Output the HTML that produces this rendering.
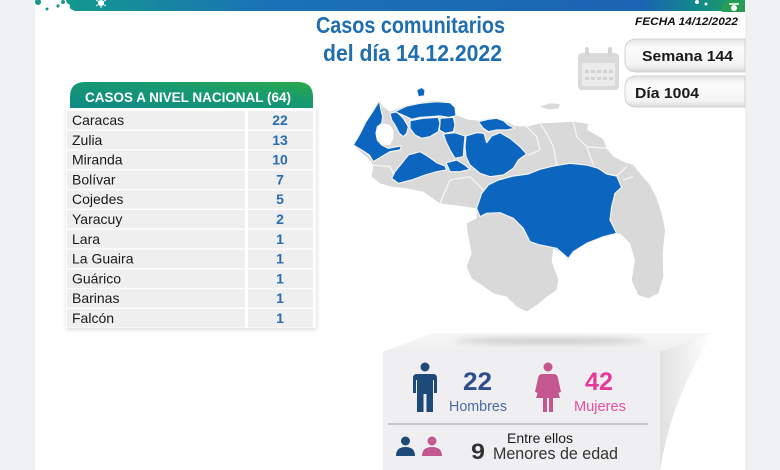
<!DOCTYPE html>
<html><head><meta charset="utf-8"><style>
html,body{margin:0;padding:0;background:#fff;}
svg{display:block;}
text{font-family:"Liberation Sans",sans-serif;}
</style></head><body>
<svg width="780" height="470" viewBox="0 0 780 470" xmlns="http://www.w3.org/2000/svg">
<defs>
<linearGradient id="ban" gradientUnits="userSpaceOnUse" x1="60" y1="0" x2="745" y2="0">
<stop offset="0" stop-color="#139a8c"/><stop offset="0.3" stop-color="#1a72b6"/><stop offset="0.85" stop-color="#1b64b3"/><stop offset="0.93" stop-color="#12898a"/><stop offset="1" stop-color="#22a05a"/>
</linearGradient>
<linearGradient id="hdr" x1="0" y1="1" x2="1" y2="0">
<stop offset="0" stop-color="#0f8a85"/><stop offset="0.6" stop-color="#179a70"/><stop offset="1" stop-color="#2aa84a"/>
</linearGradient>
<linearGradient id="pill" x1="0" y1="0" x2="0" y2="1">
<stop offset="0" stop-color="#e4e4e4"/><stop offset="0.25" stop-color="#fbfbfb"/><stop offset="0.8" stop-color="#f4f4f4"/><stop offset="1" stop-color="#d8d8d8"/>
</linearGradient>
<linearGradient id="side" x1="0" y1="0" x2="1" y2="0">
<stop offset="0" stop-color="#dedede"/><stop offset="1" stop-color="#ffffff"/>
</linearGradient>
<linearGradient id="topf" x1="0" y1="0" x2="0" y2="1">
<stop offset="0" stop-color="#f7f7f7"/><stop offset="1" stop-color="#eeeeee"/>
</linearGradient>
<filter id="blur" x="-20%" y="-200%" width="140%" height="500%"><feGaussianBlur stdDeviation="3"/></filter>
<filter id="sh" x="-10%" y="-10%" width="120%" height="120%"><feGaussianBlur stdDeviation="2"/></filter>
</defs>

<!-- side margins -->
<rect x="0" y="0" width="35" height="470" fill="#f0f1f3"/>
<rect x="745" y="0" width="35" height="470" fill="#f0f1f3"/>

<!-- top banner -->
<path d="M66,0 H745 V11 H75 Q68,9 70,5 Q66,3 66,0 Z" fill="url(#ban)"/>
<circle cx="38" cy="2" r="3" fill="#139a8c"/>
<circle cx="47" cy="9" r="1.5" fill="#139a8c"/>
<circle cx="58" cy="6" r="1.6" fill="#139a8c"/>
<circle cx="63" cy="2" r="2" fill="#139a8c"/>
<circle cx="101" cy="3" r="3" fill="#fff"/>
<path d="M96,0 L106,6 M106,0 L96,6 M101,-1 V8" stroke="#fff" stroke-width="1"/>
<circle cx="697" cy="2" r="2" fill="#fff"/>
<circle cx="706" cy="4" r="1.5" fill="#fff"/>
<path d="M722,12 Q720,3 727,1 L745,0 V12 Z" fill="#2a9d55"/>
<circle cx="734" cy="8" r="3" fill="#fff"/>
<path d="M729,4 L739,4" stroke="#fff" stroke-width="1.5"/>

<!-- title -->
<text x="316" y="33" font-size="23" font-weight="bold" fill="#1f6eb0" textLength="189" lengthAdjust="spacingAndGlyphs">Casos comunitarios</text>
<text x="323" y="61" font-size="23" font-weight="bold" fill="#1f6eb0" textLength="179" lengthAdjust="spacingAndGlyphs">del día 14.12.2022</text>

<text x="635" y="25" font-size="11" font-weight="bold" font-style="italic" fill="#111" textLength="103" lengthAdjust="spacingAndGlyphs">FECHA 14/12/2022</text>

<!-- calendar -->
<g opacity="0.9">
<rect x="578" y="53" width="41" height="37" rx="4" fill="#d6d6d6"/>
<rect x="582" y="63" width="33" height="23" rx="1" fill="#e9e9e9"/>
<rect x="585" y="47" width="4" height="10" rx="2" fill="#d0d0d0"/>
<rect x="608" y="47" width="4" height="10" rx="2" fill="#d0d0d0"/>
<g fill="#cfcfcf">
<rect x="585" y="70" width="4" height="3"/><rect x="591" y="70" width="4" height="3"/><rect x="597" y="70" width="4" height="3"/><rect x="603" y="70" width="4" height="3"/><rect x="609" y="70" width="4" height="3"/>
<rect x="585" y="77" width="4" height="3"/><rect x="591" y="77" width="4" height="3"/><rect x="597" y="77" width="4" height="3"/><rect x="603" y="77" width="4" height="3"/><rect x="609" y="77" width="4" height="3"/>
</g>
</g>

<!-- semana / dia pills -->
<path d="M745,39 H637 Q625,39 625,51 V60 Q625,72 637,72 H745 Z" fill="url(#pill)" stroke="#d2d2d2" stroke-width="1"/>
<path d="M745,76 H637 Q625,76 625,88 V96 Q625,107 637,107 H745 Z" fill="url(#pill)" stroke="#d2d2d2" stroke-width="1"/>
<text x="642" y="61" font-size="15" font-weight="bold" fill="#1a1a1a" textLength="91" lengthAdjust="spacingAndGlyphs">Semana 144</text>
<text x="635" y="98" font-size="15" font-weight="bold" fill="#1a1a1a" textLength="64" lengthAdjust="spacingAndGlyphs">Día 1004</text>

<!-- table -->
<rect x="66" y="108" width="251" height="222" fill="#e0e0e0" filter="url(#sh)"/>
<rect x="66" y="108" width="250" height="220" fill="#fff"/>
<path d="M70,108 V97 Q70,82 85,82 H298 Q313,82 313,97 V108 Z" fill="url(#hdr)"/>
<text x="85" y="102" font-size="14" font-weight="bold" fill="#fff" textLength="206" lengthAdjust="spacingAndGlyphs">CASOS A NIVEL NACIONAL  (64)</text>
<g fill="#efefef">
<rect x="67" y="111" width="178" height="18.5"/><rect x="248" y="111" width="65" height="18.5"/>
<rect x="67" y="130.8" width="178" height="18.5"/><rect x="248" y="130.8" width="65" height="18.5"/>
<rect x="67" y="150.6" width="178" height="18.5"/><rect x="248" y="150.6" width="65" height="18.5"/>
<rect x="67" y="170.4" width="178" height="18.5"/><rect x="248" y="170.4" width="65" height="18.5"/>
<rect x="67" y="190.2" width="178" height="18.5"/><rect x="248" y="190.2" width="65" height="18.5"/>
<rect x="67" y="210" width="178" height="18.5"/><rect x="248" y="210" width="65" height="18.5"/>
<rect x="67" y="229.8" width="178" height="18.5"/><rect x="248" y="229.8" width="65" height="18.5"/>
<rect x="67" y="249.6" width="178" height="18.5"/><rect x="248" y="249.6" width="65" height="18.5"/>
<rect x="67" y="269.4" width="178" height="18.5"/><rect x="248" y="269.4" width="65" height="18.5"/>
<rect x="67" y="289.2" width="178" height="18.5"/><rect x="248" y="289.2" width="65" height="18.5"/>
<rect x="67" y="309" width="178" height="18.5"/><rect x="248" y="309" width="65" height="18.5"/>
</g>
<g font-size="14" fill="#1a1a1a">
<text x="72" y="125">Caracas</text>
<text x="72" y="144.8">Zulia</text>
<text x="72" y="164.6">Miranda</text>
<text x="72" y="184.4">Bolívar</text>
<text x="72" y="204.2">Cojedes</text>
<text x="72" y="224">Yaracuy</text>
<text x="72" y="243.8">Lara</text>
<text x="72" y="263.6">La Guaira</text>
<text x="72" y="283.4">Guárico</text>
<text x="72" y="303.2">Barinas</text>
<text x="72" y="323">Falcón</text>
</g>
<g font-size="14" font-weight="bold" fill="#2a6db0" text-anchor="middle">
<text x="280" y="125">22</text>
<text x="280" y="144.8">13</text>
<text x="280" y="164.6">10</text>
<text x="280" y="184.4">7</text>
<text x="280" y="204.2">5</text>
<text x="280" y="224">2</text>
<text x="280" y="243.8">1</text>
<text x="280" y="263.6">1</text>
<text x="280" y="283.4">1</text>
<text x="280" y="303.2">1</text>
<text x="280" y="323">1</text>
</g>

<!-- map -->
<g transform="translate(340,80) scale(0.33333)">
<path d="M40,195 L60,160 L85,115 L105,85 L118,60 L128,80 L150,95 L175,85 L205,75 L240,68 L280,62 L330,66 L345,80 L348,105 L380,118 L415,122 L450,115 L490,120 L525,138 L560,140 L600,130 L650,128 L700,125 L745,132 L740,148 L760,160 L790,178 L800,205 L820,230 L850,245 L880,255 L900,280 L930,315 L950,355 L965,400 L975,450 L968,520 L970,590 L955,640 L925,655 L895,645 L875,600 L885,540 L870,490 L840,460 L800,470 L760,482 L720,500 L700,520 L685,540 L665,520 L640,505 L635,545 L655,600 L650,630 L620,650 L590,675 L560,695 L530,680 L500,650 L460,640 L425,615 L395,595 L380,560 L395,520 L385,470 L380,430 L410,415 L410,385 L360,378 L300,370 L250,335 L200,325 L155,320 L120,310 L95,290 L100,255 L85,235 L60,215 Z" fill="#d9d9d9"/>
<path d="M600,80 L630,70 L660,72 L655,85 L625,88 Z" fill="#d9d9d9"/>
<g fill="none" stroke="#f4f4f4" stroke-width="4">
<path d="M560,140 L590,170 L600,210 L565,225"/>
<path d="M600,130 L620,160 L640,200 L650,255"/>
<path d="M700,125 L710,170 L740,200 L760,255"/>
<path d="M740,200 L800,205"/>
<path d="M830,288 L860,260"/>
<path d="M95,255 L150,260 L170,300"/>
<path d="M410,385 L420,410"/>
<path d="M300,370 L330,300 L390,290 L430,330"/>
<path d="M850,300 L880,290"/>
</g>
<g fill="#0c66c0" stroke="#f4f4f4" stroke-width="3.5" stroke-linejoin="round">
<path d="M40,195 L58,165 L78,125 L98,95 L118,62 L122,85 L128,110 L125,130 L112,140 L108,160 L112,180 L125,195 L145,205 L170,200 L185,198 L180,210 L150,215 L125,230 L100,245 L88,225 L65,210 Z"/>
<path d="M150,100 L170,95 L190,115 L205,140 L200,160 L190,170 L178,160 L165,135 L155,120 Z"/>
<path d="M165,95 L200,78 L240,70 L290,65 L330,68 L345,82 L348,108 L325,112 L300,108 L270,110 L240,112 L215,118 L195,108 Z"/>
<path d="M210,122 L250,115 L295,112 L300,130 L295,155 L270,170 L245,175 L225,165 L210,145 Z"/>
<path d="M300,115 L340,112 L345,135 L340,155 L315,160 L298,150 L300,130 Z"/>
<path d="M310,162 L345,158 L375,168 L372,200 L370,230 L345,235 L330,210 L318,185 Z"/>
<path d="M378,168 L410,158 L432,160 L440,188 L455,168 L480,158 L510,175 L540,200 L560,222 L535,240 L520,265 L490,285 L450,290 L420,280 L390,255 L378,230 L375,200 Z"/>
<path d="M415,125 L445,118 L470,115 L490,122 L505,135 L525,145 L500,150 L470,150 L445,155 L430,145 Z"/>
<path d="M155,295 L165,275 L185,250 L205,225 L240,215 L265,230 L290,248 L315,258 L320,270 L290,275 L255,285 L215,300 L175,310 Z"/>
<path d="M318,248 L350,240 L375,255 L390,268 L360,275 L330,275 Z"/>
<path d="M410,385 L425,340 L445,315 L475,300 L520,288 L565,282 L600,268 L640,258 L690,250 L740,255 L775,265 L800,282 L830,288 L845,322 L825,340 L815,380 L810,420 L830,460 L790,470 L740,490 L700,515 L685,535 L650,505 L600,495 L570,485 L550,445 L520,415 L480,398 L440,400 L420,410 Z"/>
<path d="M230,30 L245,22 L255,30 L253,48 L235,50 Z"/>
</g>
<path d="M112,140 L130,130 L150,135 L160,150 L160,175 L150,195 L125,195 L112,180 L108,160 Z" fill="#fff"/>
</g>

<!-- stats box -->
<path d="M713,333 Q690,370 675,410 Q665,440 660,470 H655 V352 Z" fill="url(#side)"/>
<path d="M383,352 L432,333 H713 L660,352 Z" fill="url(#topf)"/>
<ellipse cx="550" cy="341" rx="95" ry="3" fill="#c8c8c8" filter="url(#blur)"/>
<rect x="383" y="352" width="277" height="118" fill="#efeff1"/>

<!-- man -->
<g fill="#1d4a78">
<circle cx="425" cy="367" r="4.5"/>
<path d="M417,374 H433 Q437,374 437,378 V393 H434 V380 H433 V412 H426.5 V394 H423.5 V412 H417 V380 H416 V393 H413 V378 Q413,374 417,374 Z"/>
</g>
<!-- woman -->
<g fill="#c4578f">
<circle cx="548" cy="367" r="4.5"/>
<path d="M542,374 H554 Q557,374 558,378 L561,392 L558,393 L555,382 L560,398 H553 V412 H549 V398 H547 V412 H543 V398 H536 L541,382 L538,393 L535,392 L538,378 Q539,374 542,374 Z"/>
</g>
<text x="463" y="390" font-size="25" font-weight="bold" fill="#2c4d8e" textLength="29" lengthAdjust="spacingAndGlyphs">22</text>
<text x="585" y="390" font-size="25" font-weight="bold" fill="#e6399b" textLength="28" lengthAdjust="spacingAndGlyphs">42</text>
<text x="449" y="411" font-size="15" fill="#4b6aa5" textLength="58" lengthAdjust="spacingAndGlyphs">Hombres</text>
<text x="574" y="411" font-size="15" fill="#e8509f" textLength="52" lengthAdjust="spacingAndGlyphs">Mujeres</text>
<rect x="388" y="423" width="260" height="2" fill="#c6c6c6"/>

<!-- small icons -->
<g fill="#1d4a78">
<circle cx="405.5" cy="441" r="4.5"/>
<path d="M396,456 Q396,447 405.5,447 Q415,447 415,456 Z"/>
</g>
<g fill="#c4578f">
<circle cx="432" cy="441" r="4.5"/>
<path d="M422,456 Q422,447 432,447 Q442,447 442,456 Z"/>
</g>
<text x="507" y="443" font-size="14" fill="#1a1a1a" textLength="66" lengthAdjust="spacingAndGlyphs">Entre ellos</text>
<text x="471" y="459" font-size="22" font-weight="bold" fill="#333" textLength="14" lengthAdjust="spacingAndGlyphs">9</text>
<text x="493" y="459" font-size="17" fill="#333" textLength="125" lengthAdjust="spacingAndGlyphs">Menores de edad</text>
</svg>
</body></html>
